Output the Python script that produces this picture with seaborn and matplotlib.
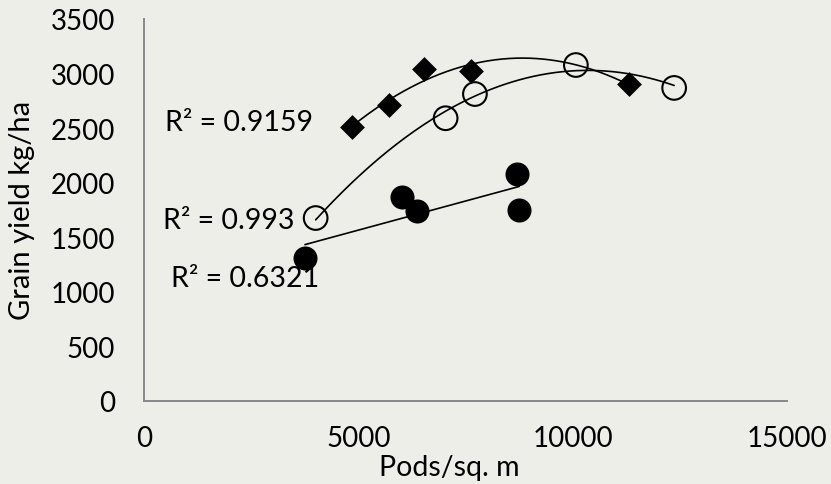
import numpy as np
import pandas as pd
import matplotlib
matplotlib.use("Agg")
import matplotlib.pyplot as plt
import seaborn as sns

# ---- data ----
diamond_x = [4855, 5705, 6536, 7633, 11307]
diamond_y = [2513, 2712, 3042, 3021, 2904]
open_x = [4001, 7036, 7720, 10077, 12372]
open_y = [1675, 2590, 2812, 3078, 2868]
filled_x = [3751, 6008, 6359, 8707, 8754]
filled_y = [1309, 1868, 1737, 2076, 1746]

r2_labels = ["R² = 0.9159", "R² = 0.993", "R² = 0.6321"]
x_ticks = [0, 5000, 10000, 15000]
y_ticks = [0, 500, 1000, 1500, 2000, 2500, 3000, 3500]
x_label = "Pods/sq. m"
y_label = "Grain yield kg/ha"

BG = "#EEEEE9"
GRAY = "#888888"

sns.set_theme(style="white")
plt.rcParams["font.family"] = ["Lato", "DejaVu Sans"]

fig = plt.figure(figsize=(8.31, 4.85), dpi=100, facecolor=BG)
W, H = 831, 485
ax = fig.add_axes([144.3 / W, 1 - 401.7 / H, (786.7 - 144.3) / W, (401.7 - 20) / H])
ax.set_facecolor(BG)

def fit_df(xs, ys, deg):
    c = np.polyfit(xs, ys, deg)
    xx = np.linspace(min(xs), max(xs), 200)
    return pd.DataFrame({"x": xx, "y": np.polyval(c, xx)})

for xs, ys, deg in [(diamond_x, diamond_y, 2), (open_x, open_y, 2), (filled_x, filled_y, 1)]:
    d = fit_df(xs, ys, deg)
    sns.lineplot(data=d, x="x", y="y", ax=ax, color="black", linewidth=1.2, sort=False)

sns.scatterplot(x=diamond_x, y=diamond_y, ax=ax, marker="D", s=160, color="black",
                edgecolor="black", linewidth=0, zorder=5)
sns.scatterplot(x=open_x, y=open_y, ax=ax, marker="o", s=290, facecolor="none",
                edgecolor="black", linewidth=1.5, zorder=5)
sns.scatterplot(x=filled_x, y=filled_y, ax=ax, marker="o", s=300, color="black",
                edgecolor="black", linewidth=0, zorder=5)

ax.set_xlim(0, 15000)
ax.set_ylim(0, 3500)
ax.set_xticks(x_ticks)
ax.set_yticks(y_ticks)
ax.tick_params(axis="both", direction="out", length=7.2, width=1.4, color=GRAY,
               labelsize=20, labelcolor="black")
ax.tick_params(axis="y", pad=14)
ax.tick_params(axis="x", pad=10)
for s in ["top", "right"]:
    ax.spines[s].set_visible(False)
for s in ["left", "bottom"]:
    ax.spines[s].set_color(GRAY)
    ax.spines[s].set_linewidth(1.4)

ax.set_xlabel(x_label, fontsize=20.5, color="black")
ax.set_ylabel(y_label, fontsize=21, color="black")
ax.xaxis.set_label_coords((449 - 144.3) / (786.7 - 144.3), -(468 - 401.7) / (401.7 - 20))
ax.yaxis.set_label_coords(-(144.3 - 22) / (786.7 - 144.3), 0.5)
ax.xaxis.label.set_va("center")
ax.yaxis.label.set_va("center")

label_pos = [(483, 2556), (437, 1657), (623, 1125)]
for txt, (lx, ly) in zip(r2_labels, label_pos):
    ax.text(lx, ly, txt, fontsize=20.5, color="black", ha="left", va="center")

fig.savefig("out.png", dpi=100, facecolor=BG)
